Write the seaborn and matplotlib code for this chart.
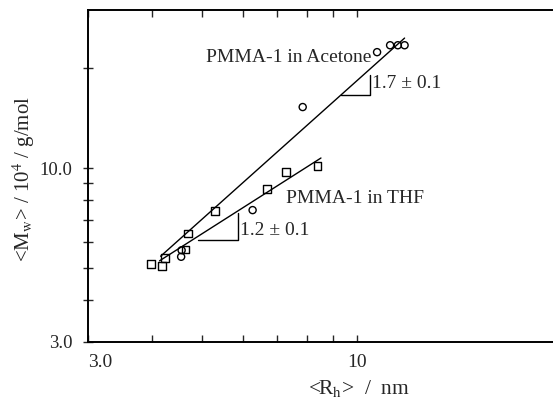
import numpy as np
import pandas as pd
import matplotlib
matplotlib.use("Agg")
import matplotlib.pyplot as plt
import seaborn as sns

# data
thf_rh = [3.98, 4.17, 4.23, 4.64, 4.69, 5.29, 6.70, 7.29, 8.39]
thf_mw = [5.14, 5.08, 5.35, 5.69, 6.36, 7.44, 8.66, 9.73, 10.19]
ace_rh = [4.55, 4.56, 6.27, 7.85, 10.96, 11.62, 12.03, 12.4]
ace_mw = [5.41, 5.66, 7.48, 15.3, 22.4, 23.5, 23.5, 23.5]

# fit lines (end points)
ace_fit_rh = [4.15, 12.4]
ace_fit_mw = [5.43, 24.7]
thf_fit_rh = [4.13, 8.52]
thf_fit_mw = [5.26, 10.74]

# slope triangles
ace_tri_rh = [9.34, 10.6, 10.6]
ace_tri_mw = [16.6, 16.6, 19.05]
thf_tri_rh = [4.90, 5.88, 5.88]
thf_tri_mw = [6.07, 6.07, 7.34]

thf = pd.DataFrame({"Rh": thf_rh, "Mw": thf_mw})
ace = pd.DataFrame({"Rh": ace_rh, "Mw": ace_mw})

sns.set_style("ticks")
plt.rcParams['font.family'] = ['Liberation Serif', 'DejaVu Serif']
plt.rcParams['mathtext.fontset'] = 'stix'

fig = plt.figure(figsize=(5.53, 4.0), dpi=100)
ax = fig.add_axes([0.1597, 0.1458, 0.928, 0.829])

sns.lineplot(x=ace_fit_rh, y=ace_fit_mw, color='black', lw=1, ax=ax)
sns.lineplot(x=thf_fit_rh, y=thf_fit_mw, color='black', lw=1, ax=ax)
ax.plot(ace_tri_rh, ace_tri_mw, color='black', lw=1)
ax.plot(thf_tri_rh, thf_tri_mw, color='black', lw=1)

sns.scatterplot(data=thf, x="Rh", y="Mw", marker='s', s=32, facecolor='none',
                edgecolor='black', linewidth=1, ax=ax, zorder=3)
sns.scatterplot(data=ace, x="Rh", y="Mw", marker='o', s=26, facecolor='none',
                edgecolor='black', linewidth=1, ax=ax, zorder=3)

ax.set_xscale('log')
ax.set_yscale('log')
ax.set_xlim(3, 30)
ax.set_ylim(3, 30)

ax.set_xticks([3, 10])
ax.set_xticklabels(["3.0", "10"])
ax.set_xticks([4, 5, 6, 7, 8, 9], minor=True)
ax.set_xticklabels([], minor=True)
ax.set_yticks([3, 10])
ax.set_yticklabels(["3.0", "10.0"])
ax.set_yticks([4, 5, 6, 7, 8, 9, 20], minor=True)
ax.set_yticklabels([], minor=True)
ax.get_xticklabels()[0].set_ha('left')

ax.tick_params(axis='x', which='both', direction='in', top=True, length=5,
               width=1, labelsize=14, pad=9)
ax.tick_params(axis='y', which='both', direction='inout', length=7,
               width=1, labelsize=13.5, pad=8)
for sp in ax.spines.values():
    sp.set_linewidth(1.4)
    sp.set_color('black')

ax.set_xlabel(r"<R$_\mathrm{h}$>  /  nm", fontsize=15.5)
ax.set_ylabel(r"<M$_\mathrm{w}$> / 10$^4$ / g/mol", fontsize=15)
ax.xaxis.set_label_coords(0.527, -0.11)
ax.yaxis.set_label_coords(-0.1, 0.49)

ax.text(10.7, 21.6, "PMMA-1 in Acetone", fontsize=14, ha='right', va='center')
ax.text(10.7, 18.0, "1.7 ± 0.1", fontsize=14, ha='left', va='center')
ax.text(7.29, 8.11, "PMMA-1 in THF", fontsize=14, ha='left', va='center')
ax.text(5.92, 6.5, "1.2 ± 0.1", fontsize=14, ha='left', va='center')

fig.savefig("out.png", dpi=100)
